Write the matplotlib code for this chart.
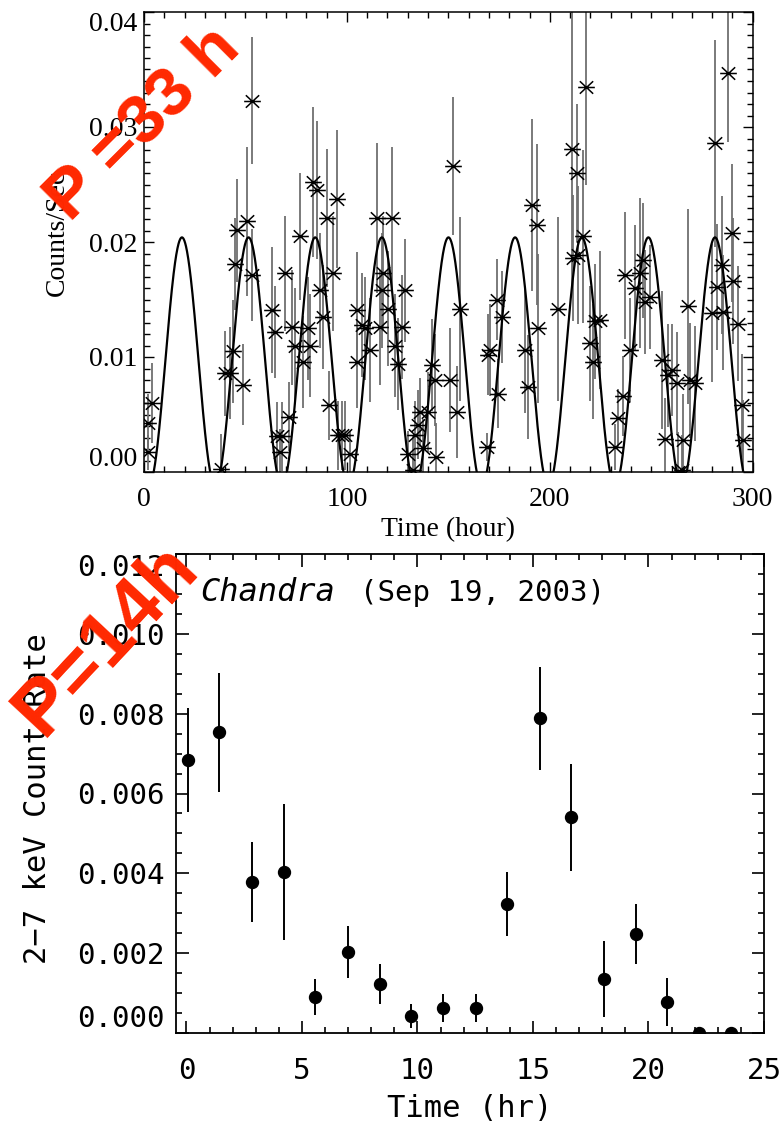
import numpy as np
import matplotlib
matplotlib.use("Agg")
import matplotlib.pyplot as plt
from matplotlib.path import Path
from matplotlib.ticker import MultipleLocator

# ---- top panel: light curve (hours), counts/sec with 1-sigma errors
t_hr = [2.0, 2.0, 3.8, 37.8, 39.9, 42.4, 44.0, 44.8, 45.7, 48.9, 50.6, 53.1, 53.1,
        62.9, 64.6, 65.4, 67.0, 67.9, 69.5, 71.5, 72.8, 74.4, 76.9, 78.5, 81.0,
        81.8, 83.5, 85.1, 86.7, 88.4, 90.0, 91.2, 93.3, 94.9, 95.8, 97.4, 99.0,
        101.5, 104.8, 104.8, 107.3, 108.9, 111.4, 114.7, 116.3, 117.1, 117.9,
        120.4, 122.0, 123.7, 125.3, 127.0, 128.6, 130.3, 132.7, 133.5, 135.2,
        136.0, 137.6, 140.1, 141.8, 143.4, 144.0, 150.8, 152.5, 154.1, 155.7,
        168.9, 169.7, 170.5, 173.8, 174.6, 176.3, 187.8, 189.4, 191.1, 193.5,
        194.3, 204.2, 210.8, 211.6, 213.2, 214.1, 216.5, 217.7, 219.8, 221.4,
        222.3, 224.7, 232.1, 233.8, 236.2, 237.0, 239.5, 242.0, 244.4, 246.1,
        246.9, 249.4, 255.1, 256.8, 258.4, 260.1, 262.5, 263.4, 265.0, 265.8,
        268.3, 269.1, 271.6, 279.8, 281.4, 282.2, 284.7, 285.5, 288.0, 289.6,
        290.4, 292.9, 294.5, 295.3]
rate = [0.0017, 0.0043, 0.0060, 0.0003, 0.0086, 0.0086, 0.0105, 0.0181, 0.0210,
        0.0076, 0.0218, 0.0171, 0.0323, 0.0141, 0.0122, 0.0031, 0.0017, 0.0031,
        0.0173, 0.0048, 0.0126, 0.0110, 0.0205, 0.0096, 0.0125, 0.0110, 0.0252,
        0.0245, 0.0158, 0.0135, 0.0221, 0.0058, 0.0173, 0.0237, 0.0032, 0.0032,
        0.0032, 0.0016, 0.0141, 0.0096, 0.0128, 0.0125, 0.0106, 0.0221, 0.0126,
        0.0158, 0.0173, 0.0142, 0.0221, 0.0110, 0.0094, 0.0126, 0.0158, 0.0016,
        0.0002, 0.0032, 0.0041, 0.0052, 0.0021, 0.0052, 0.0093, 0.0080, 0.0013,
        0.0080, 0.0266, 0.0052, 0.0142, 0.0022, 0.0102, 0.0106, 0.0150, 0.0068,
        0.0135, 0.0106, 0.0074, 0.0232, 0.0215, 0.0125, 0.0142, 0.0281, 0.0186,
        0.0260, 0.0189, 0.0205, 0.0335, 0.0112, 0.0096, 0.0131, 0.0132, 0.0022,
        0.0047, 0.0066, 0.0171, 0.0106, 0.0160, 0.0173, 0.0184, 0.0148, 0.0152,
        0.0097, 0.0029, 0.0084, 0.0089, 0.0077, 0.0000, 0.0002, 0.0028, 0.0144,
        0.0080, 0.0077, 0.0138, 0.0286, 0.0161, 0.0180, 0.0139, 0.0347, 0.0208,
        0.0166, 0.0129, 0.0058, 0.0028]
rate_err = [0.0015, 0.0025, 0.0035, 0.0030, 0.0037, 0.0040, 0.0045, 0.0040, 0.0045,
            0.0035, 0.0065, 0.0040, 0.0055, 0.0055, 0.0040, 0.0030, 0.0020, 0.0030,
            0.0050, 0.0030, 0.0050, 0.0050, 0.0055, 0.0040, 0.0045, 0.0045, 0.0065,
            0.0060, 0.0050, 0.0045, 0.0060, 0.0030, 0.0050, 0.0060, 0.0030, 0.0030,
            0.0030, 0.0020, 0.0050, 0.0040, 0.0045, 0.0045, 0.0045, 0.0065, 0.0050,
            0.0050, 0.0050, 0.0050, 0.0062, 0.0045, 0.0040, 0.0045, 0.0045, 0.0020,
            0.0030, 0.0030, 0.0030, 0.0030, 0.0025, 0.0035, 0.0040, 0.0040, 0.0030,
            0.0045, 0.0060, 0.0040, 0.0080, 0.0012, 0.0035, 0.0040, 0.0035, 0.0030,
            0.0040, 0.0055, 0.0045, 0.0075, 0.0070, 0.0065, 0.0080, 0.0120, 0.0055,
            0.0060, 0.0060, 0.0075, 0.0085, 0.0050, 0.0050, 0.0050, 0.0060, 0.0020,
            0.0025, 0.0035, 0.0055, 0.0045, 0.0055, 0.0065, 0.0050, 0.0045, 0.0045,
            0.0060, 0.0035, 0.0045, 0.0040, 0.0045, 0.0035, 0.0030, 0.0040, 0.0085,
            0.0050, 0.0050, 0.0060, 0.0090, 0.0055, 0.0060, 0.0050, 0.0060, 0.0060,
            0.0055, 0.0050, 0.0045, 0.0035]

# sinusoid model drawn over the light curve (P = 33 h)
period = 32.84
t_peak = 18.7
amp = 0.0108
offset = 0.0096

# ---- bottom panel: Chandra 2-7 keV light curve
t_chandra = [0.06, 1.43, 2.83, 4.21, 5.57, 6.98, 8.38, 9.74, 11.12, 12.53,
             13.89, 15.29, 16.65, 18.06, 19.44, 20.82, 22.2, 23.56]
cr = [0.00684, 0.00753, 0.00379, 0.00404, 0.00091, 0.00203, 0.00123, 0.00042,
      0.00062, 0.00062, 0.00324, 0.00788, 0.00540, 0.00136, 0.00248, 0.00078,
      0.0, 0.0]
cr_err = [0.0013, 0.0015, 0.0010, 0.0017, 0.00045, 0.00065, 0.0005, 0.0003,
          0.00035, 0.00035, 0.0008, 0.0013, 0.00135, 0.00095, 0.00075, 0.0006,
          0.0, 0.0]

W, H = 780, 1125
fig = plt.figure(figsize=(W / 100, H / 100), dpi=100, facecolor="white")

# asterisk-like marker: horizontal bar plus an X
star = Path([(-1, 0), (1, 0), (-0.8, -0.75), (0.8, 0.75), (-0.8, 0.75), (0.8, -0.75)],
            [Path.MOVETO, Path.LINETO, Path.MOVETO, Path.LINETO, Path.MOVETO, Path.LINETO])

serif = "Liberation Serif"
mono = "DejaVu Sans Mono"

# ========== top panel ==========
ax1 = fig.add_axes([144 / W, 1 - 472 / H, 608.7 / W, 460 / H])
ax1.errorbar(t_hr, rate, yerr=rate_err, fmt="none", ecolor="#6f6f6f",
             elinewidth=1.3, capsize=0, zorder=2)
ax1.plot(t_hr, rate, linestyle="none", marker=star, markersize=12,
         markerfacecolor="none", markeredgecolor="black", markeredgewidth=1.1, zorder=3)

tc = np.linspace(0, 300, 3000)
ax1.plot(tc, offset + amp * np.cos(2 * np.pi * (tc - t_peak) / period),
         color="black", lw=1.6, zorder=4)

ax1.set_xlim(0, 300)
ax1.set_ylim(0, 0.04)
ax1.set_xticks([0, 100, 200, 300])
ax1.set_yticks([0.0, 0.01, 0.02, 0.03, 0.04])
ax1.set_yticklabels(["0.00", "0.01", "0.02", "0.03", "0.04"])
ax1.xaxis.set_minor_locator(MultipleLocator(10))
ax1.yaxis.set_minor_locator(MultipleLocator(0.001))
ax1.tick_params(which="both", direction="in", top=True, right=True, width=1.0)
ax1.tick_params(which="major", length=7)
ax1.tick_params(which="minor", length=4)
ax1.tick_params(axis="x", pad=11)
ax1.tick_params(axis="y", pad=5)
for lab in ax1.get_xticklabels() + ax1.get_yticklabels():
    lab.set_fontfamily(serif)
    lab.set_fontsize(20)
ylabs = ax1.get_yticklabels()
ylabs[0].set_verticalalignment("bottom")
ylabs[-1].set_verticalalignment("top")
for s in ax1.spines.values():
    s.set_linewidth(1.1)

ax1.set_xlabel("Time (hour)", fontfamily=serif, fontsize=20)
ax1.set_ylabel("Counts/Sec", fontfamily=serif, fontsize=20)
ax1.xaxis.label.set_verticalalignment("center")
ax1.yaxis.label.set_verticalalignment("center")
ax1.xaxis.set_label_coords(0.5, -0.126)
ax1.yaxis.set_label_coords(-0.143, 0.52)

# ========== bottom panel ==========
ax2 = fig.add_axes([176 / W, 1 - 1033 / H, 588 / W, 479 / H])
ax2.errorbar(t_chandra, cr, yerr=cr_err, fmt="o", color="black", markersize=8.6,
             elinewidth=1.4, capsize=0, zorder=3)
ax2.set_xlim(-0.45, 25)
ax2.set_ylim(0, 0.012)
ax2.set_xticks([0, 5, 10, 15, 20, 25])
ax2.set_yticks([0, 0.002, 0.004, 0.006, 0.008, 0.010, 0.012])
ax2.set_yticklabels(["0.000", "0.002", "0.004", "0.006", "0.008", "0.010", "0.012"])
ax2.xaxis.set_minor_locator(MultipleLocator(1))
ax2.yaxis.set_minor_locator(MultipleLocator(0.0005))
ax2.tick_params(which="both", direction="in", top=True, right=True, width=1.2)
ax2.tick_params(which="major", length=9)
ax2.tick_params(which="minor", length=4.5)
ax2.tick_params(axis="x", pad=17)
ax2.tick_params(axis="y", pad=8)
for lab in ax2.get_xticklabels() + ax2.get_yticklabels():
    lab.set_fontfamily(mono)
    lab.set_fontsize(21)
ylabs2 = ax2.get_yticklabels()
ylabs2[0].set_verticalalignment("bottom")
ylabs2[-1].set_verticalalignment("top")
for s in ax2.spines.values():
    s.set_linewidth(1.3)

ax2.set_xlabel("Time (hr)", fontfamily=mono, fontsize=22)
ax2.set_ylabel("2\u22127 keV Count Rate", fontfamily=mono, fontsize=22)
ax2.xaxis.label.set_verticalalignment("center")
ax2.yaxis.label.set_verticalalignment("center")
ax2.xaxis.set_label_coords(0.5, -0.157)
ax2.yaxis.set_label_coords(-0.236, 0.49)

ax2.text(0.041, 0.919, "Chandra", transform=ax2.transAxes, fontfamily=mono,
         fontstyle="italic", fontsize=23, ha="left", va="center")
ax2.text(0.313, 0.919, "(Sep 19, 2003)", transform=ax2.transAxes, fontfamily=mono,
         fontsize=21, ha="left", va="center")

# ========== red period annotations ==========
red = "#FF2800"
fig.text(143.5 / W, 1 - 123.5 / H, "P =33 h", color=red, fontfamily="Liberation Sans",
         fontweight="bold", fontsize=50, rotation=45, ha="center", va="center", zorder=10)
fig.text(107 / W, 1 - 640 / H, "P=14h", color=red, fontfamily="Liberation Sans",
         fontweight="bold", fontsize=56, rotation=47, ha="center", va="center", zorder=10)

fig.savefig("out.png", dpi=100, facecolor="white")
